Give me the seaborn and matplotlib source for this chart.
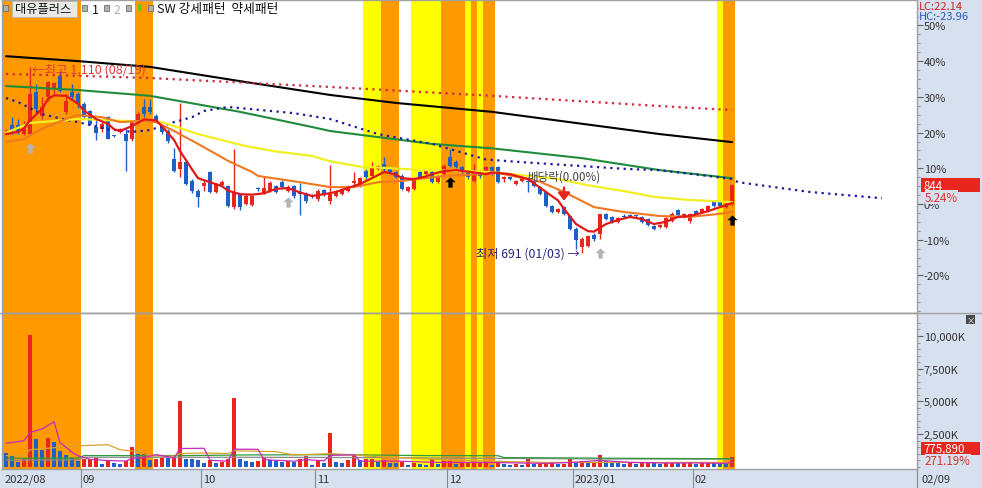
import matplotlib
matplotlib.use("Agg")
import matplotlib.pyplot as plt
from matplotlib.patches import Rectangle
import pandas as pd
import seaborn as sns

# ---------------- data ----------------
opens = [965, 979, 979, 959, 959, 1054, 1000, 1042, 1060, 1090, 1009, 1054, 1049,
         1027, 1011, 975, 970, 997, 956, 964, 959, 948, 988, 1020, 1020, 1000, 975, 966, 903, 881,
         896, 854, 831, 842, 874, 829, 845, 842, 795, 824, 802, 800, 837, 827, 831, 842, 851, 831,
         842, 826, 824, 821, 813, 833, 809, 820, 824, 831, 849, 842, 876, 865, 881, 892, 881, 874,
         865, 831, 836, 874, 869, 874, 851, 869, 908, 896, 885, 876, 854, 874, 874, 885, 885, 858,
         862, 847, 854, 853, 854, 840, 829, 798, 784, 795, 775, 746, 705, 708, 732, 735, 780, 773,
         762, 774, 776, 776, 773, 768, 753, 750, 750, 764, 789, 773, 764, 786, 784, 786, 806, 806,
         795, 802]
highs = [970, 997, 993, 988, 1110, 1072, 1042, 1078, 1076, 1099, 1049, 1072, 1054,
         1031, 1013, 993, 988, 1000, 958, 972, 970, 990, 1009, 1038, 1038, 1004, 979, 970, 928, 1029,
         900, 858, 836, 858, 876, 849, 856, 845, 926, 827, 824, 822, 840, 865, 854, 845, 856, 845,
         845, 849, 829, 824, 836, 836, 889, 833, 838, 845, 874, 863, 881, 896, 890, 908, 883, 876,
         869, 842, 860, 876, 878, 878, 867, 892, 926, 900, 887, 878, 892, 878, 887, 887, 887, 865,
         863, 856, 865, 863, 856, 842, 831, 800, 793, 798, 777, 750, 728, 732, 737, 780, 782, 775,
         773, 780, 780, 778, 775, 771, 755, 757, 773, 784, 791, 782, 782, 789, 793, 800, 809, 808,
         806, 848]
lows = [960, 959, 959, 957, 957, 1004, 993, 1033, 1050, 1054, 1004, 1038, 1018,
        993, 979, 946, 964, 948, 953, 962, 876, 944, 986, 997, 1004, 986, 959, 939, 874, 862,
        845, 826, 795, 831, 826, 827, 842, 795, 791, 789, 800, 798, 831, 824, 829, 827, 836, 829,
        815, 777, 804, 816, 809, 820, 802, 818, 822, 829, 845, 840, 858, 863, 879, 874, 872, 860,
        833, 829, 833, 860, 867, 849, 849, 867, 885, 883, 872, 858, 851, 860, 872, 867, 849, 851,
        856, 845, 851, 829, 840, 822, 795, 782, 782, 777, 744, 701, 691, 705, 719, 723, 766, 760,
        760, 771, 773, 773, 760, 753, 744, 748, 748, 762, 775, 771, 760, 778, 782, 784, 796, 796,
        793, 800]
closes = [966, 966, 964, 970, 1049, 1015, 1020, 1076, 1074, 1056, 1033, 1042, 1027,
          997, 982, 962, 982, 948, 955, 970, 944, 988, 1004, 1004, 1009, 988, 964, 944, 876, 896,
          847, 831, 818, 849, 829, 847, 852, 798, 829, 795, 820, 820, 835, 838, 849, 829, 840, 840,
          820, 824, 809, 820, 831, 822, 824, 831, 836, 842, 854, 860, 863, 883, 887, 881, 874, 863,
          836, 840, 858, 863, 876, 851, 865, 887, 887, 885, 876, 863, 876, 865, 885, 869, 851, 862,
          858, 854, 863, 851, 842, 824, 798, 784, 791, 780, 746, 721, 723, 730, 723, 780, 768, 762,
          771, 773, 775, 775, 762, 755, 746, 755, 771, 780, 777, 780, 780, 780, 791, 798, 798, 798,
          802, 844]
volumes_k = [1054, 923, 385, 615, 10100, 2100, 1254, 2230, 1900, 1177, 923, 669, 408,
             600, 620, 640, 230, 438, 308, 230, 460, 1515, 1000, 1077, 485, 565, 669, 640, 823, 5020,
             615, 565, 540, 308, 485, 282, 360, 565, 5230, 615, 436, 359, 410, 692, 538, 410, 359, 410,
             359, 564, 820, 154, 487, 282, 2540, 359, 308, 487, 923, 520, 600, 620, 360, 490, 310, 300,
             360, 150, 310, 230, 150, 560, 230, 410, 420, 230, 300, 320, 330, 360, 370, 150, 410, 230,
             100, 230, 100, 560, 230, 240, 250, 260, 230, 240, 620, 350, 400, 300, 330, 920, 420, 300,
             260, 240, 280, 200, 250, 300, 260, 220, 330, 380, 250, 270, 320, 240, 250, 300, 280, 230,
             209, 776]

# moving-average style lines: (candle index, price)
ma5_idx = [0, 2, 3, 4, 6, 7, 8, 10, 12, 13, 15, 17, 18, 19, 21, 23, 25, 26, 28, 29, 31, 32, 34, 36,
           37, 39, 41, 43, 45, 47, 49, 51, 53, 55, 57, 59, 61, 63, 65, 66, 68, 70, 71, 73, 75, 78,
           80, 81, 84, 87, 90, 92, 93, 95, 97, 98, 100, 102, 104, 106, 108, 110, 112, 114, 117, 119, 121]
ma5_val = [959, 964, 972, 990, 1015, 1038, 1046, 1045, 1027, 1012, 993, 982, 970, 966, 977, 992, 990,
           977, 946, 921, 880, 860, 851, 842, 832, 824, 823, 826, 836, 838, 828, 820, 824, 829, 838,
           847, 860, 874, 868, 860, 858, 864, 869, 876, 878, 873, 869, 873, 869, 858, 829, 810, 791,
           757, 741, 740, 757, 766, 773, 768, 757, 762, 773, 775, 786, 795, 804]
ma20_idx = [0, 3, 5, 7, 10, 12, 16, 19, 22, 25, 28, 32, 37, 41, 42, 49, 54, 58, 62, 66, 73, 79, 82,
            84, 87, 89, 93, 98, 103, 109, 114, 119, 121]
ma20_val = [941, 948, 964, 977, 993, 1002, 997, 986, 988, 986, 966, 937, 899, 874, 865, 851, 840, 840,
            851, 854, 865, 869, 872, 866, 858, 852, 829, 795, 784, 775, 773, 780, 784]
ma60_idx = [0, 4, 12, 21, 26, 32, 40, 45, 51, 54, 59, 70, 81, 92, 97, 103, 108, 114, 119, 121]
ma60_val = [962, 984, 993, 988, 986, 959, 932, 920, 910, 898, 886, 878, 874, 858, 844, 831, 818, 811,
            808, 806]
ma120_idx = [0, 12, 24, 39, 51, 54, 71, 81, 96, 109, 121]
ma120_val = [1067, 1058, 1045, 1009, 975, 966, 937, 927, 905, 878, 860]
ma240_idx = [0, 12, 24, 39, 54, 65, 81, 109, 121]
ma240_val = [1134, 1123, 1110, 1078, 1047, 1029, 1009, 959, 941]
hiline_idx = [0, 12, 24, 54, 81, 109, 121]
hiline_val = [1094, 1090, 1085, 1065, 1045, 1022, 1013]
span_idx = [0, 2, 6, 10, 12, 17, 21, 24, 28, 31, 33, 37, 41, 48, 54, 62, 71, 80, 86, 103, 109, 117,
            121, 122, 134, 146]
span_val = [1040, 1031, 1004, 991, 986, 970, 964, 968, 986, 997, 1011, 1020, 1015, 1006, 993, 959,
            937, 902, 896, 881, 878, 865, 858, 851, 829, 815]

# volume averages (K)
vma_a_idx = [0, 3, 4, 6, 8, 9, 10, 11, 12, 14, 17, 20, 21, 23, 25, 27, 28, 29, 33, 34, 37, 38, 42,
             43, 48, 50, 53, 54, 58, 59, 65, 72, 80, 90, 94, 99, 104, 110, 115, 120, 121]
vma_a_val = [1790, 1990, 2630, 2880, 3440, 1860, 1480, 1100, 840, 560, 470, 430, 650, 700, 930, 760,
             650, 1390, 1410, 500, 410, 1340, 1330, 540, 420, 540, 450, 860, 920, 420, 430, 330, 330,
             250, 320, 480, 330, 280, 290, 250, 360]
vma_b_idx = [0, 3, 4, 12, 17, 19, 22, 24, 28, 29, 33, 37, 38, 45, 48, 54, 58, 62, 70, 80, 90, 100, 110, 121]
vma_b_val = [850, 860, 1300, 1600, 1680, 1300, 1150, 840, 800, 1000, 1050, 1000, 1220, 1150, 900,
             1000, 900, 760, 600, 430, 330, 330, 320, 330]
vma_c_idx = [0, 12, 13, 30, 40, 55, 70, 82, 83, 100, 115, 121]
vma_c_val = [650, 660, 850, 850, 900, 920, 850, 840, 700, 650, 620, 610]
vma_d_idx = [0, 12, 13, 40, 60, 80, 100, 121]
vma_d_val = [500, 520, 720, 720, 700, 640, 590, 580]

base_close = 802
pct_ticks = [50, 40, 30, 20, 10, 0, -10, -20]
vol_ticks_k = [2500, 5000, 7500, 10000]
month_labels = ["2022/08", "09", "10", "11", "12", "2023/01", "02"]
month_start = [0, 13, 33, 52, 74, 95, 115]
last_date = "02/09"
band_start = [0, 22, 60, 63, 68, 73, 77, 78, 79, 80, 119, 120]
band_end = [12, 24, 62, 65, 72, 76, 77, 78, 79, 81, 119, 121]
band_kind = ["강세", "강세", "약세", "강세", "약세", "강세", "약세", "강세", "약세", "강세", "약세", "강세"]
up_arrow_idx = [4, 47, 74, 99, 121]
up_arrow_val = [928, 806, 851, 692, 767]
up_arrow_kind = ["gray", "gray", "black", "gray", "black"]
high_idx, high_val, high_date = 4, 1110, "08/19"
low_idx, low_val, low_date = 96, 691, "01/03"
exdiv_idx = 93
last_change_pct = 5.24
last_volume = 775890
last_vol_change = 271.19
lc_val, hc_val = 22.14, -23.96

# ---------------- style ----------------
sns.set_style("white")
plt.rcParams['font.family'] = ['Noto Sans CJK KR', 'DejaVu Sans']

RED = '#e8261e'
BLUE = '#1f5fc8'
STRIP = '#d6e0ee'
FRAME = '#a0a0a0'
band_color = {"강세": '#ff9900', "약세": '#ffff00'}

W, H = 982, 489
fig = plt.figure(figsize=(W / 100, H / 100), dpi=100)
fig.patch.set_facecolor('white')


def fx(px):
    return px / W


def fy(py):
    return 1 - py / H


def prect(x0, y0, x1, y1, z=2, **kw):
    r = Rectangle((fx(x0), fy(y1)), fx(x1) - fx(x0), fy(y0) - fy(y1),
                  transform=fig.transFigure, zorder=z, **kw)
    fig.add_artist(r)
    return r


def ptext(x, y, s, **kw):
    kw.setdefault('va', 'center')
    kw.setdefault('ha', 'left')
    kw.setdefault('zorder', 5)
    return fig.text(fx(x), fy(y), s, **kw)


# background strips
prect(917, 0, 982, 489, z=-2, facecolor=STRIP, edgecolor='none')
prect(0, 470, 982, 489, z=-2, facecolor=STRIP, edgecolor='none')

ax_p = fig.add_axes([fx(2), fy(314), fx(917) - fx(2), fy(1) - fy(314)])
ax_v = fig.add_axes([fx(2), fy(470), fx(917) - fx(2), fy(314) - fy(470)])

xmin, xmax = -0.667, 151.83
for ax in (ax_p, ax_v):
    ax.set_xlim(xmin, xmax)
    ax.set_facecolor('white')
    ax.set_xticks([])
    for sp in ax.spines.values():
        sp.set_color(FRAME)
        sp.set_linewidth(1)
    for s, e, k in zip(band_start, band_end, band_kind):
        ax.axvspan(s - 0.5, e + 0.5, color=band_color[k], lw=0, zorder=0)

# price panel limits in percent of previous close
top_pct, bot_pct = 57.14, -30.53
ax_p.set_ylim(base_close * (1 + bot_pct / 100), base_close * (1 + top_pct / 100))
ax_p.set_yticks([base_close * (1 + p / 100) for p in pct_ticks])
ax_p.set_yticklabels([f"{p}%" for p in pct_ticks])
minor_p = [base_close * (1 + (p / 10) / 100) for p in range(-300, 575, 25)]
ax_p.set_yticks(minor_p, minor=True)

ax_v.set_ylim(-176, 11758)
ax_v.set_yticks(vol_ticks_k)
ax_v.set_yticklabels([f"{v:,}K" for v in vol_ticks_k])
ax_v.set_yticks(list(range(0, 11500, 500)), minor=True)

for ax in (ax_p, ax_v):
    ax.yaxis.tick_right()
    ax.tick_params(axis='y', which='major', direction='out', length=4, width=0.8,
                   color='#606060', labelsize=8, labelcolor='#333333', pad=1,
                   right=True, left=False, labelright=True, labelleft=False)
    ax.tick_params(axis='y', which='minor', direction='out', length=2, width=0.6,
                   color='#808080', right=True, left=False)

# ---------------- candles ----------------
idx = list(range(len(closes)))
ccol = [RED if c >= o else BLUE for o, c in zip(opens, closes)]
ax_p.vlines(idx, lows, highs, colors=ccol, lw=1, zorder=3)
body_bot = [min(o, c) for o, c in zip(opens, closes)]
body_h = [max(abs(c - o), 1.8) for o, c in zip(opens, closes)]
ax_p.bar(idx, body_h, bottom=body_bot, width=0.8, color=ccol, zorder=4, linewidth=0)

# ---------------- MA lines ----------------
def line(ax, xs, ys, color, lw, z, ls='-'):
    sns.lineplot(x=xs, y=ys, ax=ax, color=color, linewidth=lw, linestyle=ls,
                 zorder=z, sort=True, legend=False)


line(ax_p, ma240_idx, ma240_val, '#000000', 1.5, 5)
line(ax_p, hiline_idx, hiline_val, '#d0283c', 1.6, 5, ls=(0, (1, 2)))
line(ax_p, ma120_idx, ma120_val, '#1e8c3c', 1.5, 5)
line(ax_p, span_idx, span_val, '#1a1a9a', 1.6, 5, ls=(0, (1, 2)))
line(ax_p, ma60_idx, ma60_val, '#f2f020', 1.6, 5)
line(ax_p, ma20_idx, ma20_val, '#f07820', 1.5, 5)
line(ax_p, ma5_idx, ma5_val, '#e01818', 1.6, 6)

# ---------------- volume ----------------
vcol = [BLUE] + [RED if volumes_k[i] > volumes_k[i - 1] else BLUE for i in range(1, len(volumes_k))]
ax_v.bar(idx, volumes_k, width=0.8, color=vcol, zorder=3, linewidth=0)
line(ax_v, vma_d_idx, vma_d_val, '#8a8a8a', 0.9, 4)
line(ax_v, vma_c_idx, vma_c_val, '#2e9a3e', 0.9, 4)
line(ax_v, vma_b_idx, vma_b_val, '#d8a428', 0.9, 4)
line(ax_v, vma_a_idx, vma_a_val, '#c828c0', 0.9, 5)

# ---------------- annotations ----------------
ax_p.text(high_idx + 0.35, high_val - 4, f"←최고 {high_val:,} ({high_date})", color='#e03a3a',
          fontsize=9, ha='left', va='center', zorder=7)
ax_p.text(low_idx - 0.4, low_val, f"최저 {low_val} ({low_date}) →", color='#24247e',
          fontsize=8.8, ha='right', va='center', zorder=7)
ax_p.text(exdiv_idx, 864, "배당락(0.00%)", color='#404040', fontsize=8.3, ha='center', va='center', zorder=7)
ax_p.annotate('', xy=(exdiv_idx, 803), xytext=(exdiv_idx, 845),
              arrowprops=dict(arrowstyle='-|>,head_width=0.35,head_length=0.45', color=RED, lw=1.8),
              zorder=7)

arrow_marker = [(0, 1), (1, 0.05), (0.42, 0.05), (0.42, -1), (-0.42, -1), (-0.42, 0.05), (-1, 0.05), (0, 1)]
acol = {"gray": '#b4b4b4', "black": '#000000'}
for k in ("gray", "black"):
    xs = [x for x, kk in zip(up_arrow_idx, up_arrow_kind) if kk == k]
    ys = [y for y, kk in zip(up_arrow_val, up_arrow_kind) if kk == k]
    ax_p.scatter(xs, ys, marker=arrow_marker, s=55, color=acol[k], zorder=7, linewidths=0)

# ---------------- bottom date strip ----------------
tr = ax_v.get_xaxis_transform()
for lab, s in zip(month_labels, month_start):
    if s > 0:
        ax_v.plot([s - 0.5, s - 0.5], [0, -0.122], transform=tr, color='#8a8a8a', lw=0.8,
                  clip_on=False, zorder=5)
    ax_v.text(s - 0.5 + 0.3, -0.062, lab, transform=tr, fontsize=8, color='#333333',
              ha='left', va='center', clip_on=False)
ax_v.plot([xmax, xmax], [0, -0.122], transform=tr, color='#8a8a8a', lw=0.8, clip_on=False)
ptext(921, 479.5, last_date, fontsize=8, color='#333333')

# ---------------- legend / header ----------------
prect(3, 6, 8, 12, facecolor='#b0b0b0', edgecolor='#707070', linewidth=0.6)
prect(12, 2, 77, 18, facecolor='#e8e8e8', edgecolor='#b8b8b8', linewidth=0.6)
ptext(15, 10, "대유플러스", fontsize=8.8, color='#111111')
prect(82, 6, 87, 12, facecolor='#b0b0b0', edgecolor='#707070', linewidth=0.6)
ptext(92, 10, "1", fontsize=8.8, color='#111111')
prect(104, 6, 109, 12, facecolor='#b0b0b0', edgecolor='#707070', linewidth=0.6)
ptext(114, 10, "2", fontsize=8.8, color='#b0b0b0')
prect(126, 6, 131, 12, facecolor='#b0b0b0', edgecolor='#707070', linewidth=0.6)
prect(138, 5, 141, 12, facecolor='#6cbf2a', edgecolor='none')
prect(148, 6, 153, 12, facecolor='#b0b0b0', edgecolor='#707070', linewidth=0.6)
ptext(157, 10, "SW 강세패턴  약세패턴", fontsize=9.2, color='#111111')

# ---------------- right-side value boxes ----------------
ptext(919, 7, f"LC:{lc_val:.2f}", fontsize=8, color='#d02828',
      bbox=dict(facecolor=STRIP, edgecolor='none', pad=0))
ptext(919, 17.5, f"HC:{hc_val:.2f}", fontsize=8, color='#2a5cb8',
      bbox=dict(facecolor=STRIP, edgecolor='none', pad=0.3))
prect(921, 179, 980, 193, z=4, facecolor=RED, edgecolor='none')
ptext(923, 186, f"{closes[-1]}", fontsize=8.3, color='white', zorder=6)
ptext(925, 198, f"{last_change_pct:.2f}%", fontsize=8.3, color='#e03030',
      bbox=dict(facecolor=STRIP, edgecolor='none', pad=0.2))
prect(921, 443, 980, 456, z=4, facecolor=RED, edgecolor='none')
ptext(923, 449.5, f"{last_volume:,}", fontsize=8.3, color='white', zorder=6)
ptext(925, 462, f"{last_vol_change:.2f}%", fontsize=8.3, color='#e03030',
      bbox=dict(facecolor=STRIP, edgecolor='none', pad=0.2))
prect(966, 316, 975, 325, z=4, facecolor='#4a4a4a', edgecolor='none')
ptext(970.5, 320.5, "×", fontsize=6, color='white', ha='center', zorder=6)

# full-width panel separator
fig.add_artist(plt.Line2D([0, 1], [fy(314), fy(314)], transform=fig.transFigure, color=FRAME, lw=1, zorder=3))

fig.savefig("out.png", dpi=100)
